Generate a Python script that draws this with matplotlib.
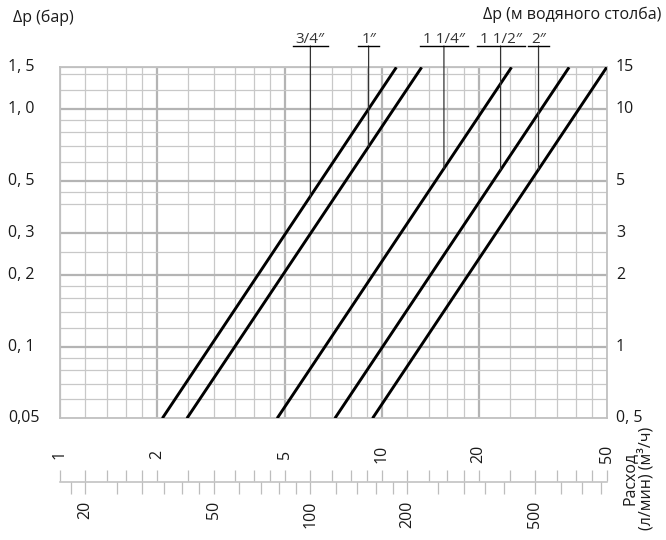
import numpy as np
import matplotlib.pyplot as plt
import matplotlib.transforms as mtransforms
from matplotlib.lines import Line2D
from matplotlib.ticker import NullFormatter

plt.rcParams['font.family'] = ['Open Sans', 'DejaVu Sans']
plt.rcParams['font.size'] = 11.5

# valve sizes; each line runs from dp_low to dp_high (bar)
sizes = ['3/4″', '1″', '1 1/4″', '1 1/2″', '2″']
flow_low = [2.08, 2.48, 4.73, 7.15, 9.36]      # m3/h at 0.05 bar
flow_high = [11.1, 13.3, 25.3, 38.2, 50.0]     # m3/h at 1.5 bar
dp_low, dp_high = 0.05, 1.5
flow_callout = [6.0, 9.1, 15.6, 23.4, 30.7]    # where each size label points

# grid
grid_flow = [1, 1.2, 1.4, 1.6, 1.8, 2, 2.5, 3, 3.5, 4, 4.5, 5, 6, 7, 8, 9,
             10, 12, 14, 16, 18, 20, 25, 30, 35, 40, 45, 50]
major_flow = [2, 5, 10, 20]
grid_dp = [0.05, 0.06, 0.07, 0.08, 0.09, 0.1, 0.12, 0.14, 0.16, 0.18, 0.2,
           0.25, 0.3, 0.4, 0.45, 0.5, 0.6, 0.7, 0.8, 0.9, 1.0, 1.2, 1.4, 1.5]
major_dp = [0.1, 0.2, 0.3, 0.5, 1.0]

# axis labels
dp_ticks = [1.5, 1.0, 0.5, 0.3, 0.2, 0.1, 0.05]
dp_labels = ['1, 5', '1, 0', '0, 5', '0, 3', '0, 2', '0, 1', '0,05']
head_ticks = [15, 10, 5, 3, 2, 1, 0.5]
head_labels = ['15', '10', '5', '3', '2', '1', '0, 5']
flow_ticks = [1, 2, 5, 10, 20, 50]
flow_labels = ['1', '2', '5', '10', '20', '50']
lpm_ticks = [20, 50, 100, 200, 500]
lpm_labels = ['20', '50', '100', '200', '500']
lpm_minor = [18, 25, 30, 35, 40, 45, 60, 70, 80, 90, 120, 140, 160, 180,
             250, 300, 350, 400, 600, 700, 800]

W, H = 666, 540
fig = plt.figure(figsize=(W / 100, H / 100), dpi=100)
ax = fig.add_axes([60 / W, 1 - 418.3 / H, 546.7 / W, 351 / H])
ax.set_xscale('log')
ax.set_yscale('log')
ax.set_xlim(1, 50)
ax.set_ylim(dp_low, dp_high)
ax.set_xticks([])
ax.set_yticks([])
ax.minorticks_off()

for q in grid_flow:
    major = q in major_flow
    ax.axvline(q, color='#b4b4b4' if major else '#c8c8c8',
               lw=1.6 if major else 0.9, zorder=1)
for p in grid_dp:
    major = p in major_dp
    ax.axhline(p, color='#b4b4b4' if major else '#c8c8c8',
               lw=1.6 if major else 0.9, zorder=1)
for s in ax.spines.values():
    s.set_color('#c0c0c0')
    s.set_linewidth(1.3)

for ql, qh in zip(flow_low, flow_high):
    ax.plot([ql, qh], [dp_low, dp_high], color='black', lw=2.1,
            solid_capstyle='butt', zorder=3)

# size callouts
labels = []
for name, ql, qh, qc in zip(sizes, flow_low, flow_high, flow_callout):
    k = np.log(dp_high / dp_low) / np.log(qh / ql)
    pc = dp_low * (qc / ql) ** k
    ax.annotate('', xy=(qc, pc), xycoords='data',
                xytext=(qc, 1.0607), textcoords=('data', 'axes fraction'),
                arrowprops=dict(arrowstyle='-', color='#333333', lw=0.9,
                                shrinkA=0, shrinkB=0))
    t = ax.annotate(name, xy=(qc, 1.0685), xycoords=('data', 'axes fraction'),
                    ha='center', va='baseline', color='#333333', fontsize=11)
    labels.append(t)

# pressure labels
left = mtransforms.blended_transform_factory(fig.transFigure, ax.transData)
for p, s in zip(dp_ticks, dp_labels):
    fig.text(8 / W, p, s, transform=left, ha='left', va='center', color='#1a1a1a')

ax2 = ax.twinx()
ax2.set_yscale('log')
ax2.set_ylim(dp_low * 10, dp_high * 10)
ax2.set_yticks([])
ax2.minorticks_off()
ax2.axis('off')
right = mtransforms.blended_transform_factory(fig.transFigure, ax2.transData)
for h, s in zip(head_ticks, head_labels):
    fig.text(616 / W, h, s, transform=right, ha='left', va='center', color='#1a1a1a')

fig.text(13 / W, 1 - 18 / H, 'Δp (бар)', ha='left', va='center', color='#1a1a1a')
fig.text(661 / W, 1 - 15 / H, 'Δp (м водяного столба)', ha='right', va='center',
         color='#1a1a1a')

# flow scale below the chart: m3/h on top, l/min underneath
sc = fig.add_axes([60 / W, 1 - 481.7 / H, 546.7 / W, 0.5 / H])
sc.set_xscale('log')
sc.set_xlim(1, 50)
sc.set_yticks([])
sc.xaxis.set_ticks_position('top')
sc.set_xticks(grid_flow)
sc.set_xticks([], minor=True)
sc.tick_params(axis='x', which='major', direction='out', length=7.6,
               width=0.9, color='#bdbdbd', labeltop=False, labelbottom=False)
for name in ['top', 'left', 'right']:
    sc.spines[name].set_visible(False)
sc.spines['bottom'].set_color('#bdbdbd')
sc.spines['bottom'].set_linewidth(1.1)
sc.patch.set_visible(False)

flow_tr = mtransforms.blended_transform_factory(sc.transData, fig.transFigure)
for q, s in zip(flow_ticks, flow_labels):
    fig.text(q, 1 - 454 / H, s, transform=flow_tr, rotation=90,
             ha='center', va='center', color='#1a1a1a')

sec = sc.secondary_xaxis('bottom', functions=(lambda q: np.asarray(q) * 1000 / 60,
                                              lambda l: np.asarray(l) * 60 / 1000))
sec.set_xticks(lpm_ticks, lpm_labels, rotation=90, color='#1a1a1a')
sec.set_xticks(lpm_minor, minor=True)
sec.xaxis.set_minor_formatter(NullFormatter())
sec.tick_params(axis='x', which='both', direction='out', length=8.3,
                width=0.9, color='#bdbdbd', pad=5.5)
sec.spines['bottom'].set_visible(False)

fig.text(638 / W, 1 - 478 / H, 'Расход\n(л/мин) (м³/ч)', rotation=90,
         ha='center', va='center', multialignment='center', color='#1a1a1a',
         linespacing=1.05)

# underline the size labels
fig.canvas.draw()
inv = fig.transFigure.inverted()
for t in labels:
    bb = t.get_window_extent()
    x0, _ = inv.transform((bb.x0 - 3, 0))
    x1, _ = inv.transform((bb.x1 + 3, 0))
    yl = 1 - 46 / H
    fig.add_artist(Line2D([x0, x1], [yl, yl], transform=fig.transFigure,
                          color='black', lw=1.0))

fig.savefig('out.png', dpi=100)
